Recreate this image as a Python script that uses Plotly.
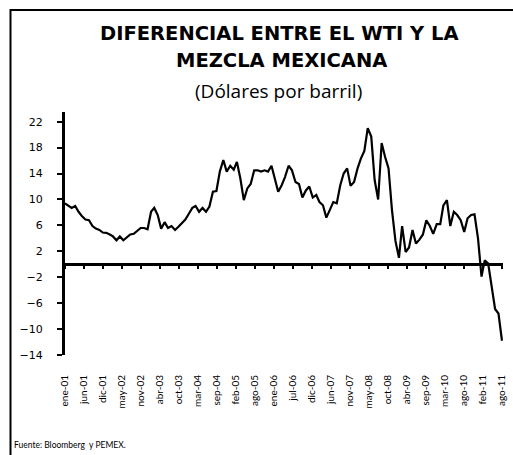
import pandas as pd
import plotly.graph_objects as go

# ---------------- data ----------------
start_month = "2001-01-01"
diferencial = [
    9.4, 9.0, 8.7, 9.0, 8.1, 7.4, 6.9, 6.8, 5.9, 5.5, 5.3, 4.9,
    4.85, 4.6, 4.3, 3.7, 4.3, 3.7, 4.1, 4.6, 4.7, 5.2, 5.6, 5.6,
    5.4, 8.1, 8.7, 7.6, 5.5, 6.5, 5.6, 5.9, 5.3, 5.8, 6.3, 6.9,
    7.8, 8.7, 9.0, 8.1, 8.7, 8.1, 8.9, 11.2, 11.3, 14.3, 16.1, 14.3,
    15.2, 14.6, 15.8, 13.2, 9.9, 11.7, 12.4, 14.5, 14.5, 14.3, 14.5, 14.3,
    15.2, 13.2, 11.2, 12.2, 13.5, 15.2, 14.5, 12.7, 12.4, 10.3, 11.4, 12.0,
    10.3, 10.7, 9.6, 9.1, 7.2, 8.4, 9.6, 9.4, 12.2, 14.0, 14.8, 12.1,
    12.7, 14.8, 16.3, 17.5, 21.0, 19.7, 13.0, 10.0, 18.7, 16.6, 14.8, 8.4,
    3.6, 1.0, 5.9, 1.9, 2.6, 5.3, 3.2, 3.8, 4.6, 6.8, 5.9, 4.7,
    6.2, 6.2, 9.1, 9.9, 5.9, 8.1, 7.6, 6.8, 5.0, 7.1, 7.6, 7.7,
    4.0, -1.9, 0.6, 0.1, -3.2, -6.9, -7.6, -11.8,
]
fechas = pd.date_range(start_month, periods=len(diferencial), freq="MS")

tick_dates = [
    "2001-01-01", "2001-06-18", "2001-12-03", "2002-05-20", "2002-11-04",
    "2003-04-21", "2003-10-06", "2004-03-22", "2004-09-06", "2005-02-21",
    "2005-08-08", "2006-01-23", "2006-07-10", "2006-12-25", "2007-06-11",
    "2007-11-26", "2008-05-12", "2008-10-27", "2009-04-13", "2009-09-28",
    "2010-03-15", "2010-08-30", "2011-02-14", "2011-08-01",
]
tick_labels = [
    "ene-01", "jun-01", "dic-01", "may-02", "nov-02", "abr-03", "oct-03",
    "mar-04", "sep-04", "feb-05", "ago-05", "ene-06", "jul-06", "dic-06",
    "jun-07", "nov-07", "may-08", "oct-08", "abr-09", "sep-09", "mar-10",
    "ago-10", "feb-11", "ago-11",
]
y_ticks = [-14, -10, -6, -2, 2, 6, 10, 14, 18, 22]

titulo_1 = "DIFERENCIAL ENTRE EL WTI Y LA"
titulo_2 = "MEZCLA MEXICANA"
subtitulo = "(Dólares por barril)"
fuente = "Fuente: Bloomberg\u00a0 y PEMEX."

# ---------------- layout geometry ----------------
W, H = 513, 455
L, R, T, B = 65, 6, 112, 100
PW, PH = W - L - R, H - T - B
y_min, y_max = -14, 23.5
x_range = ["2001-01-01", "2011-08-10"]


def px(x):
    return (x - L) / PW


def py(y):
    return (H - B - y) / PH


fig = go.Figure()
fig.add_trace(go.Scatter(
    x=fechas, y=diferencial, mode="lines",
    line=dict(color="black", width=2.2),
    hoverinfo="x+y", showlegend=False,
))
# helper trace so the zero-crossing axis is drawn
fig.add_trace(go.Scatter(
    x=fechas, y=diferencial, mode="lines", xaxis="x2",
    line=dict(color="rgba(0,0,0,0)", width=0),
    hoverinfo="skip", showlegend=False,
))

fig.update_layout(
    width=W, height=H,
    margin=dict(l=L, r=R, t=T, b=B),
    paper_bgcolor="white", plot_bgcolor="white",
    xaxis=dict(
        type="date", range=x_range,
        tickmode="array", tickvals=tick_dates, ticktext=tick_labels,
        tickangle=-90, ticks="", showline=False, showgrid=False, zeroline=False,
        tickfont=dict(family="Lato", size=10, color="black"),
        ticklabelstandoff=17,
    ),
    xaxis2=dict(
        type="date", overlaying="x", matches="x", anchor="free",
        position=(0 - y_min) / (y_max - y_min),
        tickmode="array", tickvals=tick_dates,
        showticklabels=False, ticks="outside", ticklen=3, tickwidth=1.5,
        tickcolor="black", showline=True, linecolor="black", linewidth=3,
        showgrid=False, zeroline=False,
    ),
    yaxis=dict(
        range=[y_min, y_max], tickmode="array", tickvals=y_ticks,
        ticks="outside", ticklen=5, tickwidth=1.5, tickcolor="black",
        showline=True, linecolor="black", linewidth=3,
        showgrid=False, zeroline=False,
        tickfont=dict(family="DejaVu Sans", size=11, color="black"),
        ticklabelstandoff=12,
    ),
    font=dict(family="Open Sans", color="black"),
)

fig.add_annotation(text=f"<b>{titulo_1}</b>", xref="paper", yref="paper",
                   x=px(281), y=py(33), xanchor="center", yanchor="middle",
                   showarrow=False,
                   font=dict(family="DejaVu Sans", size=19.5, color="black"))
fig.add_annotation(text=f"<b>{titulo_2}</b>", xref="paper", yref="paper",
                   x=px(283), y=py(61), xanchor="center", yanchor="middle",
                   showarrow=False,
                   font=dict(family="DejaVu Sans", size=19.5, color="black"))
fig.add_annotation(text=subtitulo, xref="paper", yref="paper",
                   x=px(280), y=py(91), xanchor="center", yanchor="middle",
                   showarrow=False,
                   font=dict(family="Open Sans", size=19, color="black"))
fig.add_annotation(text=fuente, xref="paper", yref="paper",
                   x=px(12), y=py(445), xanchor="left", yanchor="middle",
                   showarrow=False,
                   font=dict(family="Lato", size=8.5, color="black"))

fig.add_shape(type="rect", xref="paper", yref="paper",
              x0=px(10), x1=px(530), y0=py(10), y1=py(480),
              line=dict(color="black", width=2), layer="above")

fig.write_html(
    "out.html",
    config={"displayModeBar": False},
    post_script="document.body.style.margin='0';"
                "document.body.style.overflow='hidden';",
)
